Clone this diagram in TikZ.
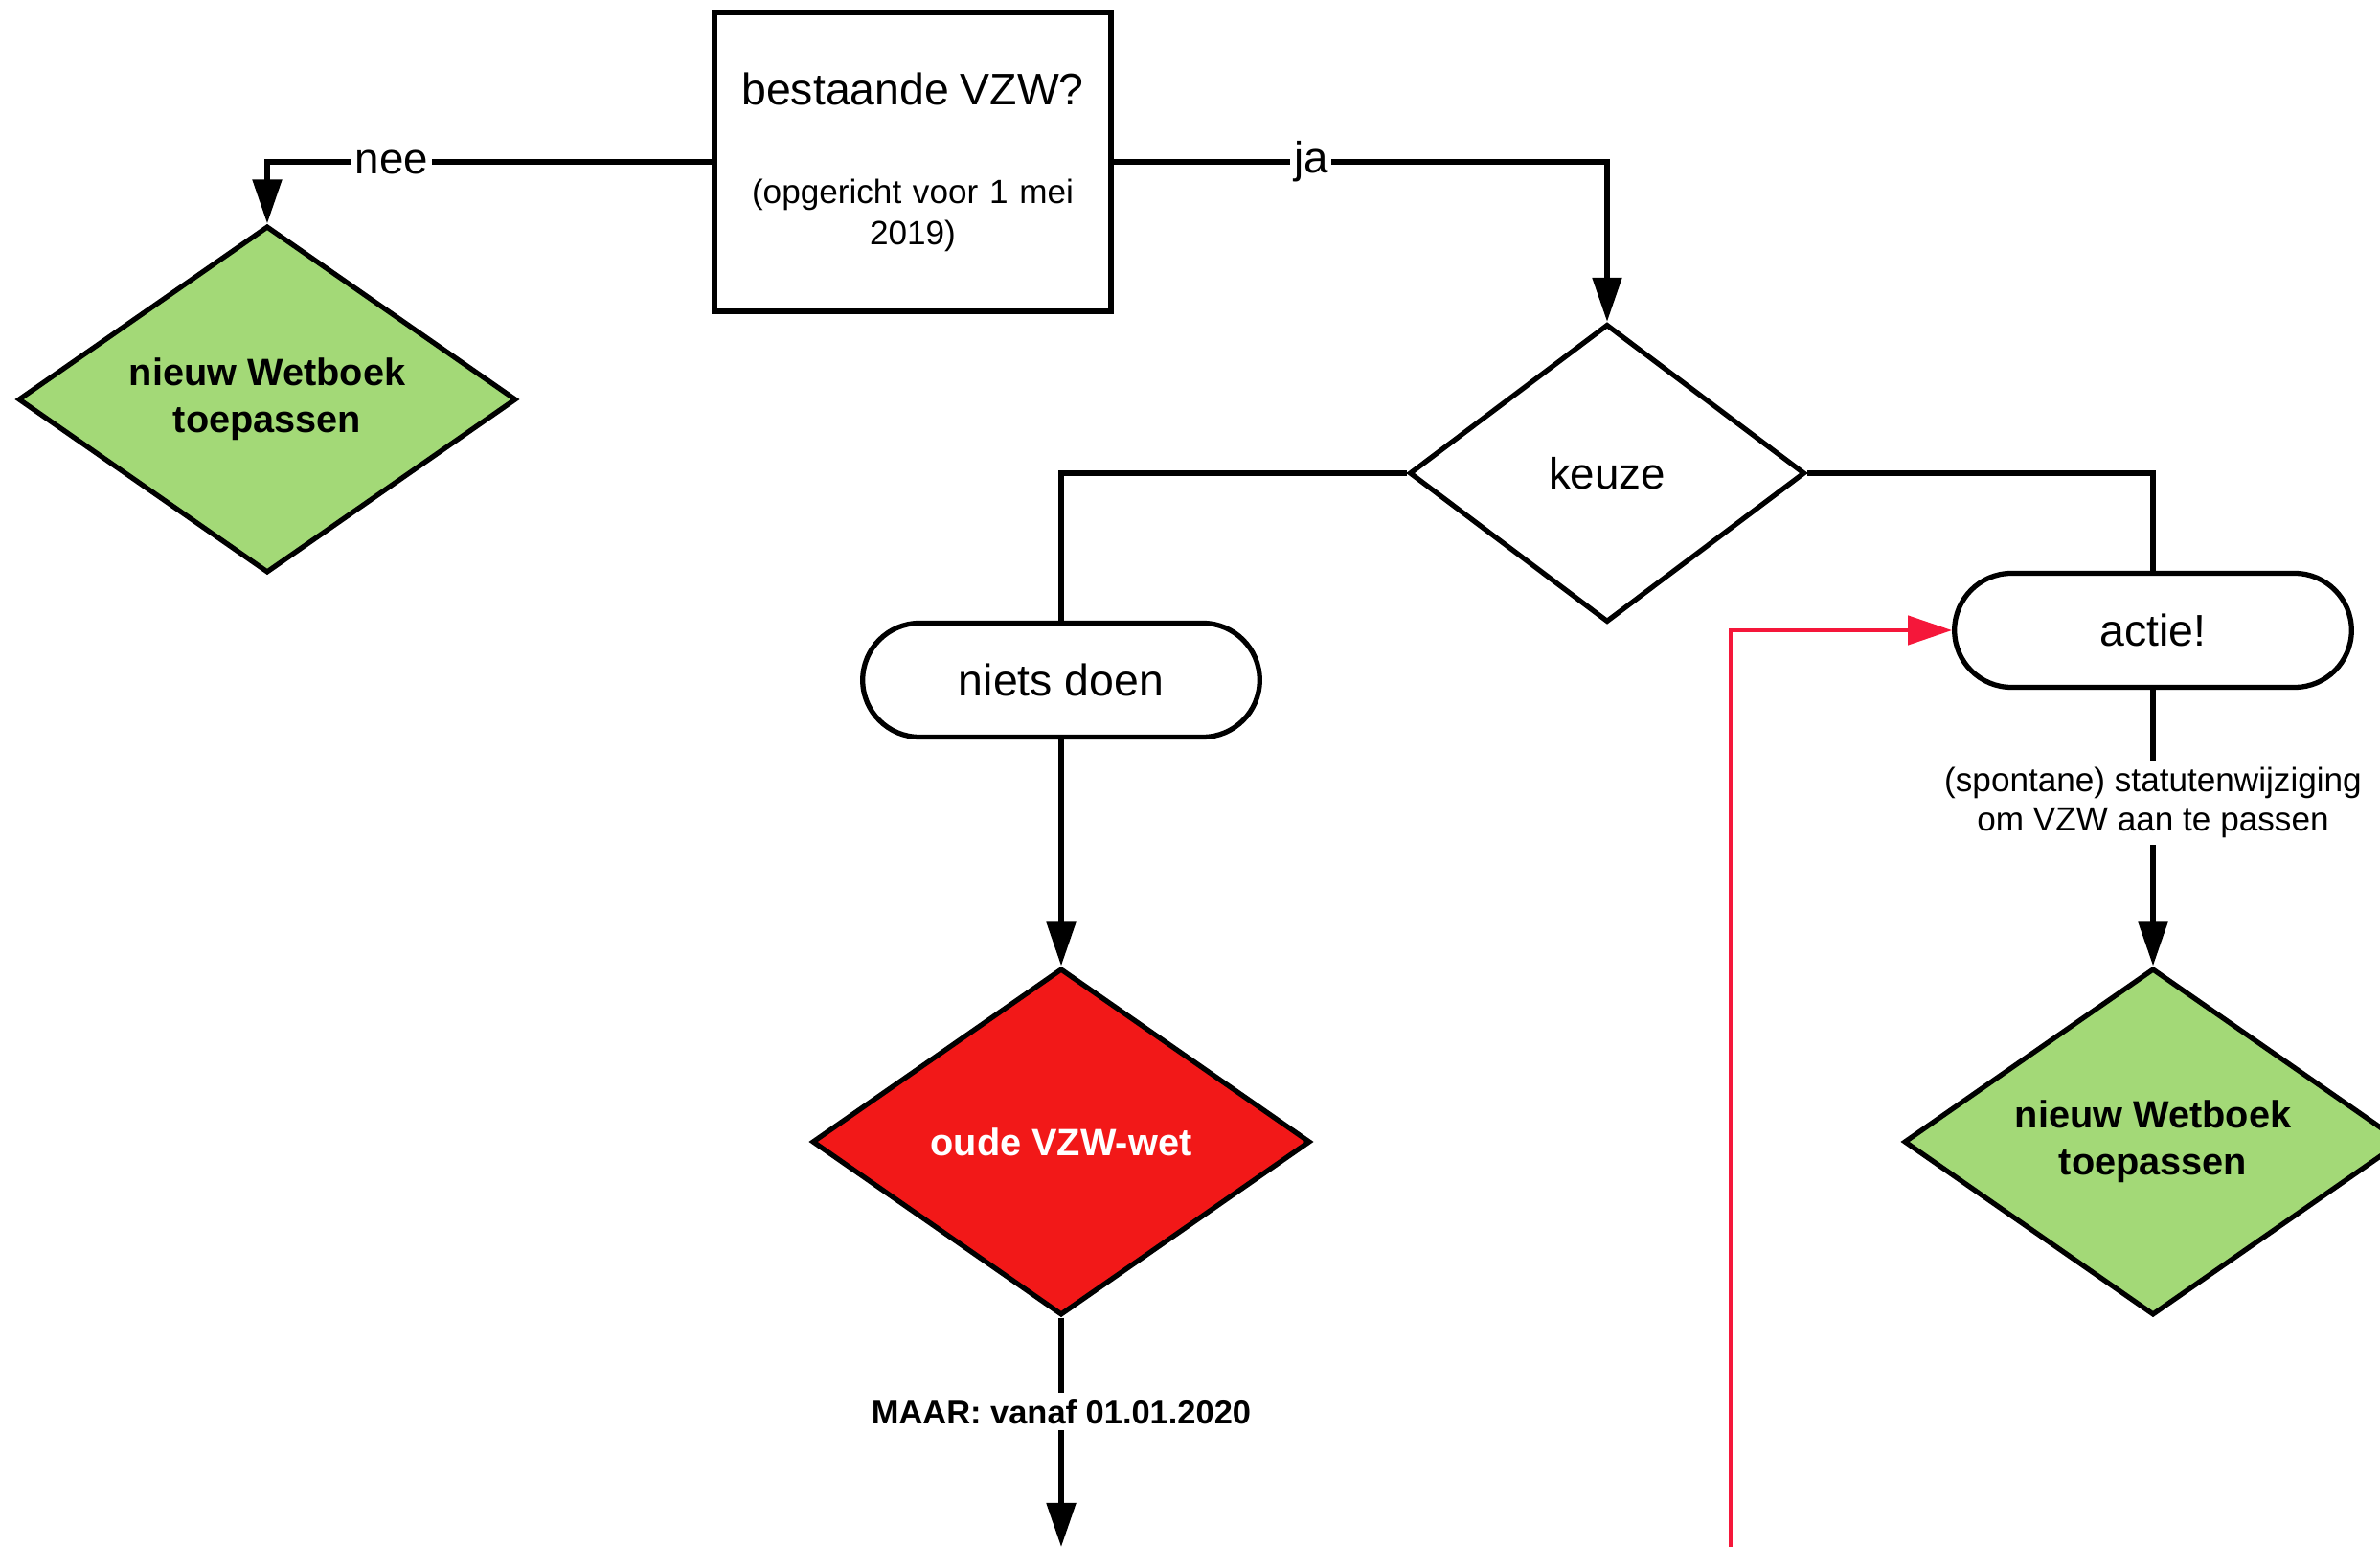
\documentclass[tikz,border=0pt]{standalone}
\usepackage{fontspec}
\setmainfont{Liberation Sans}
\usepackage{xcolor}
\usetikzlibrary{shapes.geometric,shapes.misc,arrows.meta}
\definecolor{FillGreen}{HTML}{A3D977}
\definecolor{FillRed}{HTML}{F21818}
\definecolor{LineRed}{HTML}{F5173A}

\begin{document}
\begin{tikzpicture}[
	% Vraag in een rechthoek
	question node/.style={
		rectangle,
		draw=black,
		fill=white,
		line width=1.5pt,
		minimum width=4.14cm,
		minimum height=3.12cm,
		text width=3.9cm,
		align=center
	},
	% Keuze in een witte ruit
	choice node/.style={
		diamond,
		draw=black,
		fill=white,
		line width=1.5pt,
		minimum width=4.13cm,
		minimum height=3.11cm,
		shape aspect=1.33,
		inner sep=0pt,
		font=\fontsize{13}{15}\selectfont
	},
	% Uitkomst in een gekleurde ruit
	result node/.style={
		diamond,
		draw=black,
		line width=1.5pt,
		minimum width=5.2cm,
		minimum height=3.62cm,
		shape aspect=1.44,
		inner sep=0pt,
		align=center,
		font=\bfseries\fontsize{11.3}{14}\selectfont
	},
	% Handeling in een afgeronde rechthoek
	action node/.style={
		rounded rectangle,
		draw=black,
		fill=white,
		line width=1.5pt,
		minimum width=4.38cm,
		minimum height=1.19cm,
		font=\fontsize{13.2}{15}\selectfont
	},
	% Verbindingen
	edge/.style={
		draw=black,
		line width=1.5pt
	},
	arrow edge/.style={
		edge,
		-{Triangle[length=0.46cm,width=0.3cm]}
	},
	red edge/.style={
		draw=LineRed,
		line width=1.3pt,
		-{Triangle[length=0.46cm,width=0.3cm]}
	},
	% Tekst op een verbinding
	edge label/.style={
		fill=white,
		inner sep=1pt,
		font=\fontsize{13}{15}\selectfont
	},
	small label/.style={
		fill=white,
		inner sep=2pt,
		align=center,
		font=\fontsize{10}{11.7}\selectfont
	}
	]
	
	\useasboundingbox (0,0) rectangle (24.85,-16.15);
	\clip (0,0) rectangle (24.85,-16.15);
	
	% ================= NODES =================
	\node[question node] (bestaand) at (9.53, -1.69)
		{\fontsize{13.2}{15}\selectfont bestaande VZW?\\[17.5pt]
		\fontsize{10}{12}\selectfont (opgericht voor 1 mei\\2019)};
	
	\node[result node, fill=FillGreen] (nieuwA) at (2.79, -4.17) {nieuw Wetboek\\toepassen};
	
	\node[choice node] (keuze) at (16.78, -4.94) {keuze};
	
	\node[action node] (niets) at (11.08, -7.10) {niets doen};
	\node[action node] (actie) at (22.48, -6.58) {actie!};
	
	\node[result node, fill=FillRed, text=white] (oud) at (11.08, -11.92) {oude VZW-wet};
	\node[result node, fill=FillGreen] (nieuwB) at (22.48, -11.92) {nieuw Wetboek\\toepassen};
	
	\coordinate (later) at (11.08, -16.15);
	\coordinate (terug) at (18.07, -16.40);
	
	% ================= EDGES =================
	\draw[arrow edge] (bestaand.west) -| node[edge label, pos=0.36] {nee} (nieuwA.north);
	\draw[arrow edge] (bestaand.east) -| node[edge label, pos=0.2] {ja} (keuze.north);
	
	\draw[edge] (keuze.west) -| (niets.north);
	\draw[edge] (keuze.east) -| (actie.north);
	
	\draw[arrow edge] (niets.south) -- (oud.north);
	\draw[arrow edge] (actie.south) -- node[small label, pos=0.41]
		{(spontane) statutenwijziging\\om VZW aan te passen} (nieuwB.north);
	
	\draw[arrow edge] (oud.south) -- node[small label, pos=0.41, font=\bfseries\fontsize{9.8}{12}\selectfont]
		{MAAR: vanaf 01.01.2020} (later);
	
	\draw[red edge] (terug) |- (actie.west);
	
\end{tikzpicture}
\end{document}
